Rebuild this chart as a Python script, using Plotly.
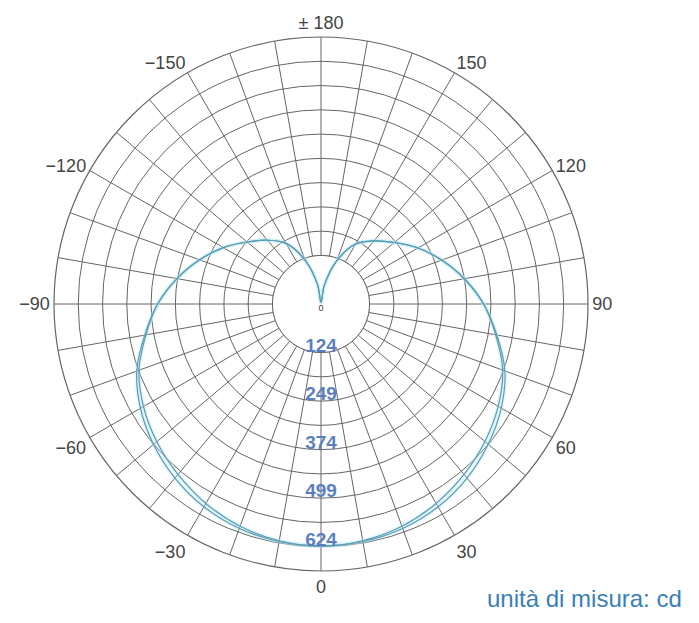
import plotly.graph_objects as go

# ---- data ----
angles = [-180, -170, -160, -150, -140, -130, -120, -110, -100, -90,
          -80, -70, -60, -50, -40, -30, -20, -10, 0,
          10, 20, 30, 40, 50, 60, 70, 80, 90,
          100, 110, 120, 130, 140, 150, 160, 170, 180]
c0_c180 = [4, 50, 120, 180, 214, 248, 290, 332, 376, 420,
           460, 504, 536, 562, 584, 602, 614, 620, 622,
           620, 614, 602, 584, 561, 535, 503, 459, 418,
           374, 330, 288, 246, 212, 178, 118, 48, 4]
c90_c270 = [4, 50, 120, 180, 214, 248, 290, 332, 376, 420,
            457, 498, 527, 551, 572, 592, 608, 618, 622,
            618, 608, 592, 572, 550, 526, 497, 456, 418,
            374, 330, 288, 246, 212, 178, 118, 48, 4]

ring_values = [124.8, 187.2, 249.6, 312.0, 374.4, 436.8, 499.2, 561.6, 624.0]
label_values = [124.8, 249.6, 374.4, 499.2, 624.0]
label_text = ["124", "249", "374", "499", "624"]
r_max = 686.4

angle_tickvals = list(range(0, 360, 10))
angle_labels = {0: "0", 30: "30", 60: "60", 90: "90", 120: "120", 150: "150",
                180: "± 180", 210: "−150", 240: "−120", 270: "−90",
                300: "−60", 330: "−30"}
angle_ticktext = [angle_labels.get(a, "") for a in angle_tickvals]

hole_theta = list(range(0, 361, 5))
hole_r = [ring_values[0]] * len(hole_theta)

GRID = "#666666"
CURVE = "#5a9db3"
FONT = "Liberation Sans, Arial, sans-serif"

# labels sit just above their ring
label_r = [v - 14 for v in label_values]

fig = go.Figure()

# white centre disk (hides grid inside the hole)
fig.add_trace(go.Scatterpolar(
    r=hole_r, theta=hole_theta, mode="lines", fill="toself",
    fillcolor="white", line=dict(color=GRID, width=1),
    hoverinfo="skip", showlegend=False))

# soft halo under curves
for vals in (c0_c180, c90_c270):
    fig.add_trace(go.Scatterpolar(
        r=vals, theta=angles, mode="lines",
        line=dict(color="rgba(180,230,245,0.35)", width=4, shape="spline"),
        hoverinfo="skip", showlegend=False))

for vals in (c0_c180, c90_c270):
    fig.add_trace(go.Scatterpolar(
        r=vals, theta=angles, mode="lines",
        line=dict(color=CURVE, width=1.2, shape="spline"),
        showlegend=False))

# radial value labels
fig.add_trace(go.Scatterpolar(
    r=label_r, theta=[0] * len(label_values), mode="text",
    text=label_text, textposition="middle center",
    textfont=dict(family=FONT, size=19, color="#5b7fc0", weight="bold"),
    hoverinfo="skip", showlegend=False))

# centre zero
fig.add_trace(go.Scatterpolar(
    r=[0], theta=[0], mode="text", text=["0"], textposition="bottom center",
    textfont=dict(family=FONT, size=9, color="#444444"),
    hoverinfo="skip", showlegend=False))

fig.update_layout(
    width=699, height=623,
    margin=dict(l=0, r=0, t=0, b=0),
    paper_bgcolor="white",
    plot_bgcolor="white",
    showlegend=False,
    polar=dict(
        domain=dict(x=[54 / 699, 588 / 699], y=[52 / 623, 586 / 623]),
        bgcolor="white",
        radialaxis=dict(
            range=[0, r_max], tickmode="array", tickvals=ring_values,
            showticklabels=False, ticks="", showline=False,
            gridcolor=GRID, gridwidth=1, layer="below traces"),
        angularaxis=dict(
            rotation=-90, direction="counterclockwise",
            tickmode="array", tickvals=angle_tickvals, ticktext=angle_ticktext,
            ticks="", showline=True, linecolor=GRID, linewidth=1.2,
            gridcolor=GRID, gridwidth=1, layer="below traces",
            tickfont=dict(family=FONT, size=18, color="#444444")),
    ),
    annotations=[dict(
        text="unità di misura: cd", xref="paper", yref="paper",
        x=684 / 699, y=(623 - 598) / 623, xanchor="right", yanchor="middle",
        showarrow=False,
        font=dict(family=FONT, size=24, color="#3a7fb8"))],
)

fig.write_html("out.html", config={"displayModeBar": False},
               post_script="document.body.style.margin='0';")
